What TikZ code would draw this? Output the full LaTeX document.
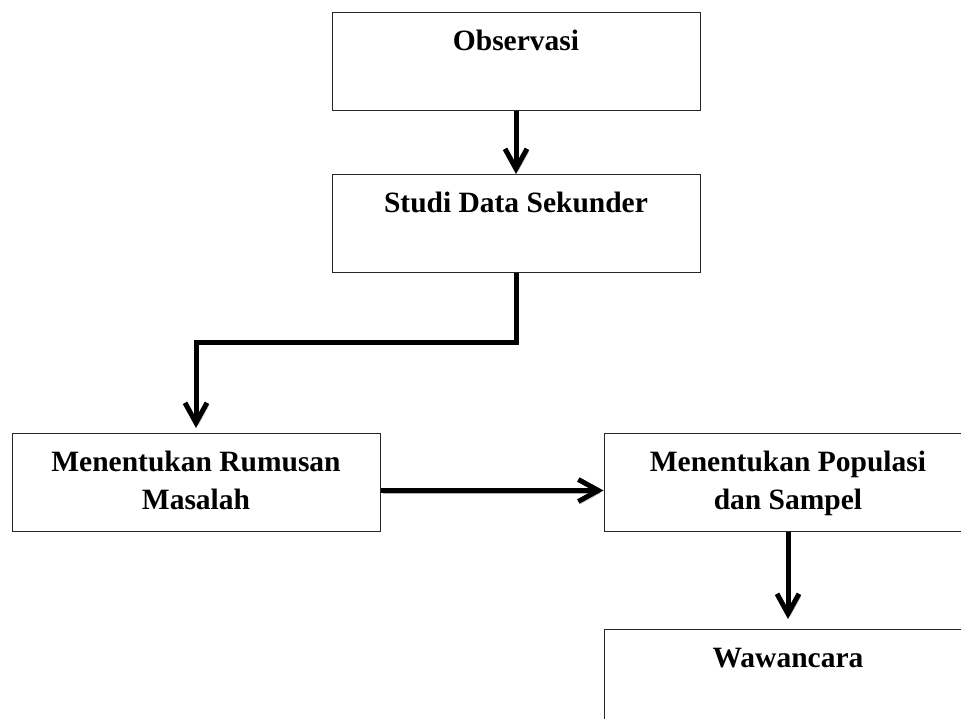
\documentclass[tikz,border=0pt]{standalone}
\usepackage{fontspec}
\setmainfont{Liberation Serif}
\usetikzlibrary{arrows.meta,positioning}

\begin{document}
\begin{tikzpicture}[x=1pt, y=1pt,
    box/.style={draw=black!85, line width=1pt, fill=white, text width=360pt, minimum width=368pt, inner sep=0pt, align=flush center, text height=38pt, text depth=60pt, anchor=north, font=\bfseries\fontsize{29.5}{38}\selectfont},
    flow/.style={line width=5pt, -{Straight Barb[length=20pt, width=22pt]}, preaction={draw=black!30, transform canvas={shift={(2pt,-2.5pt)}}}}]
    \useasboundingbox (0,0) rectangle (961,-719);
    \clip (0,0) rectangle (961,-719);
    \node[box] (obs) at (516,-12) {Observasi};
    \node[box] (studi) at (516,-174) {Studi Data Sekunder};
    \node[box] (rum) at (196,-433) {Menentukan Rumusan\\Masalah};
    \node[box] (pop) at (788,-433) {Menentukan Populasi\\dan Sampel};
    \node[box] (waw) at (788,-629) {Wawancara};
    \draw[flow] (obs.south) -- (studi.north);
    \draw[flow, shorten >=5pt] (studi.south) -- ++(0,-69) -| (rum.north);
    \draw[flow] ([yshift=-8pt]rum.east) -- ([yshift=-8pt]pop.west);
    \draw[flow, shorten >=10pt] (pop.south) -- (waw.north);
\end{tikzpicture}
\end{document}
